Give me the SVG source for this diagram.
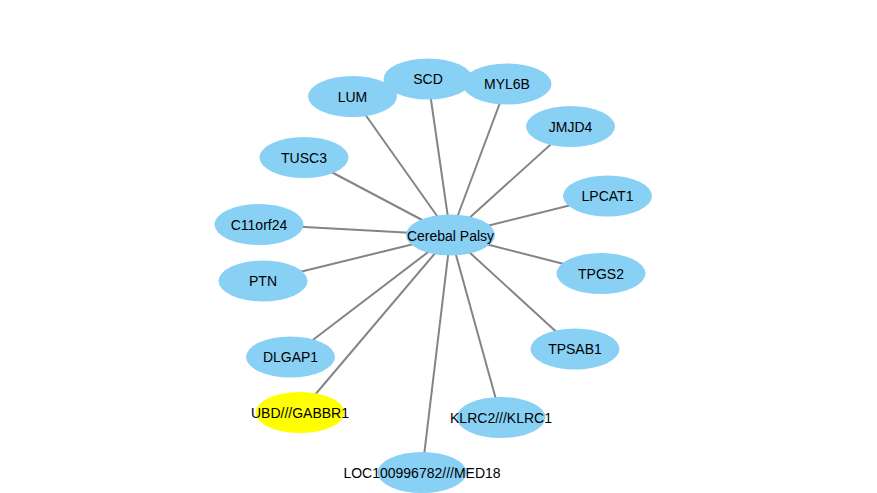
<svg xmlns="http://www.w3.org/2000/svg" width="877" height="493" viewBox="0 0 877 493">
<style>
.n ellipse{fill:#89d0f5;}
.n.y ellipse{fill:#ffff00;}
.n text{font-family:"Liberation Sans",Arial,sans-serif;font-size:14px;fill:#000;text-anchor:middle;dominant-baseline:central;}
#edges line{stroke:#848484;stroke-width:2;}
</style>
<rect width="877" height="493" fill="#fff"/>
<g id="edges">
<line x1="450.5" y1="235" x2="352.5" y2="96.5"/>
<line x1="450.5" y1="235" x2="428" y2="79"/>
<line x1="450.5" y1="235" x2="507" y2="84"/>
<line x1="450.5" y1="235" x2="570.5" y2="126.5"/>
<line x1="450.5" y1="235" x2="304" y2="157.5"/>
<line x1="450.5" y1="235" x2="607.5" y2="196"/>
<line x1="450.5" y1="235" x2="259" y2="224.5"/>
<line x1="450.5" y1="235" x2="263" y2="281"/>
<line x1="450.5" y1="235" x2="601" y2="273.5"/>
<line x1="450.5" y1="235" x2="290.5" y2="357"/>
<line x1="450.5" y1="235" x2="575" y2="349"/>
<line x1="450.5" y1="235" x2="300" y2="412.5"/>
<line x1="450.5" y1="235" x2="501" y2="417.5"/>
<line x1="450.5" y1="235" x2="422" y2="472.5"/>
</g>
<g id="n-lum" class="n"><ellipse cx="352.5" cy="96.5" rx="44.5" ry="20.5"/><text x="352.5" y="97">LUM</text></g>
<g id="n-scd" class="n"><ellipse cx="428" cy="79" rx="44.5" ry="20.5"/><text x="428" y="79">SCD</text></g>
<g id="n-myl6b" class="n"><ellipse cx="507" cy="84" rx="44.5" ry="20.5"/><text x="507" y="84">MYL6B</text></g>
<g id="n-jmjd4" class="n"><ellipse cx="570.5" cy="126.5" rx="44.5" ry="20.5"/><text x="570.5" y="127">JMJD4</text></g>
<g id="n-tusc3" class="n"><ellipse cx="304" cy="157.5" rx="44.5" ry="20.5"/><text x="304" y="158">TUSC3</text></g>
<g id="n-lpcat1" class="n"><ellipse cx="607.5" cy="196" rx="44.5" ry="20.5"/><text x="607.5" y="196">LPCAT1</text></g>
<g id="n-c11orf24" class="n"><ellipse cx="259" cy="224.5" rx="44.5" ry="20.5"/><text x="259" y="224.5">C11orf24</text></g>
<g id="n-ptn" class="n"><ellipse cx="263" cy="281" rx="44.5" ry="20.5"/><text x="263" y="281">PTN</text></g>
<g id="n-tpgs2" class="n"><ellipse cx="601" cy="273.5" rx="44.5" ry="20.5"/><text x="601" y="274">TPGS2</text></g>
<g id="n-dlgap1" class="n"><ellipse cx="290.5" cy="357" rx="44.5" ry="20.5"/><text x="290.5" y="357">DLGAP1</text></g>
<g id="n-tpsab1" class="n"><ellipse cx="575" cy="349" rx="44.5" ry="20.5"/><text x="575" y="349">TPSAB1</text></g>
<g id="n-ubd" class="n y"><ellipse cx="300" cy="412.5" rx="44.5" ry="20.5"/><text x="300" y="413">UBD///GABBR1</text></g>
<g id="n-klrc" class="n"><ellipse cx="501" cy="417.5" rx="44.5" ry="20.5"/><text x="501" y="418">KLRC2///KLRC1</text></g>
<g id="n-loc" class="n"><ellipse cx="422" cy="472.5" rx="44.5" ry="20.5"/><text x="422" y="473">LOC100996782///MED18</text></g>
<g id="n-cp" class="n"><ellipse cx="450.5" cy="235" rx="44.5" ry="20.5"/><text x="450.5" y="235.5">Cerebal Palsy</text></g>
</svg>
